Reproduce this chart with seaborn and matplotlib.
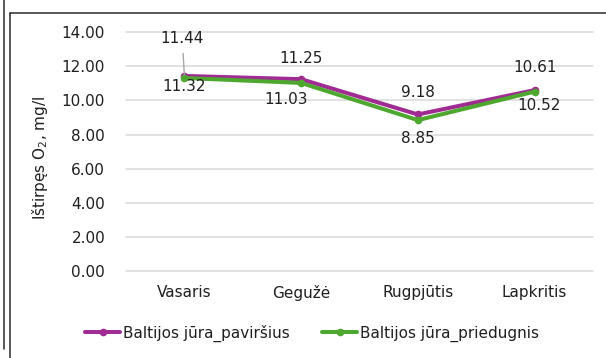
import matplotlib
matplotlib.use("Agg")
import matplotlib.pyplot as plt
from matplotlib.lines import Line2D
import seaborn as sns
import pandas as pd

months = ["Vasaris", "Gegužė", "Rugpjūtis", "Lapkritis"]
pavirsius = [11.44, 11.25, 9.18, 10.61]
priedugnis = [11.32, 11.03, 8.85, 10.52]
series_names = ["Baltijos jūra_paviršius", "Baltijos jūra_priedugnis"]
y_ticks = [0, 2, 4, 6, 8, 10, 12, 14]

purple = "#A02B93"
green = "#4EA72E"
text_color = "#1F1F1F"

sns.set_theme(style="white")
plt.rcParams["font.family"] = ["DejaVu Sans"]
plt.rcParams["text.color"] = text_color
plt.rcParams["xtick.color"] = text_color
plt.rcParams["ytick.color"] = text_color

df = pd.DataFrame({
    "value": pavirsius + priedugnis,
    "series": [series_names[0]] * 4 + [series_names[1]] * 4,
    "pos": list(range(4)) * 2,
})

fig = plt.figure(figsize=(6.06, 3.58), dpi=100)
ax = fig.add_axes([0.2079, 0.243, 0.7706, 0.6668])

sns.lineplot(data=df, x="pos", y="value", hue="series",
             palette=[purple, green], marker="o", markersize=5.5,
             markeredgewidth=0, linewidth=2.9, ax=ax, legend=False)

ax.set_xlim(-0.5, 3.5)
ax.set_ylim(0, 14)
ax.set_yticks(y_ticks)
ax.set_yticklabels([f"{v:.2f}" for v in y_ticks], fontsize=11)
ax.set_xticks(range(4))
ax.set_xticklabels(months, fontsize=11)
ax.tick_params(axis="y", length=0, pad=15)
ax.tick_params(axis="x", length=0, pad=10)
ax.grid(axis="y", color="#D9D9D9", linewidth=1.1)
for gl in ax.get_ygridlines():
    gl.set_clip_on(False)
for s in ax.spines.values():
    s.set_visible(False)
ax.set_xlabel("")
ax.set_ylabel("")
fig.text(40 / 606, 0.559, "Ištirpęs O$_2$, mg/l", rotation=90,
         ha="center", va="center", fontsize=11)

# data labels (offsets in points): surface above, bottom layer below
top_offsets = [(-1.5, 27), (0, 15), (0, 16), (0, 16)]
bottom_offsets = [(0, -6), (-11, -12), (0, -13), (3.5, -10)]
for i, (a, b) in enumerate(zip(pavirsius, priedugnis)):
    dx, dy = top_offsets[i]
    props = None
    if i == 0:
        props = dict(arrowstyle="-", color="#A6A6A6", lw=1.0,
                     shrinkA=3, shrinkB=1)
    ax.annotate(f"{a:.2f}", xy=(i, a), xytext=(dx, dy),
                textcoords="offset points", ha="center", va="center",
                fontsize=11, arrowprops=props)
    dx, dy = bottom_offsets[i]
    ax.annotate(f"{b:.2f}", xy=(i, b), xytext=(dx, dy),
                textcoords="offset points", ha="center", va="center",
                fontsize=11)

handles = [Line2D([0], [0], color=c, lw=2.9, marker="o", markersize=5.5,
                  markeredgewidth=0) for c in (purple, green)]
fig.legend(handles, series_names, loc="center", bbox_to_anchor=(0.515, 0.07),
           ncol=2, frameon=False, fontsize=11, handlelength=2.3,
           handletextpad=0.2, columnspacing=2.1)

# outer frame lines
frame = dict(color="#2B2B2B", lw=1.1, transform=fig.transFigure)
fig.add_artist(Line2D([0.0058, 0.0058], [1.0, 0.025], **frame))
fig.add_artist(Line2D([0.0173, 0.0173], [0.9637, 0.0], **frame))
fig.add_artist(Line2D([0.0173, 1.0], [0.9637, 0.9637], **frame))

fig.savefig("out.png", dpi=100)
